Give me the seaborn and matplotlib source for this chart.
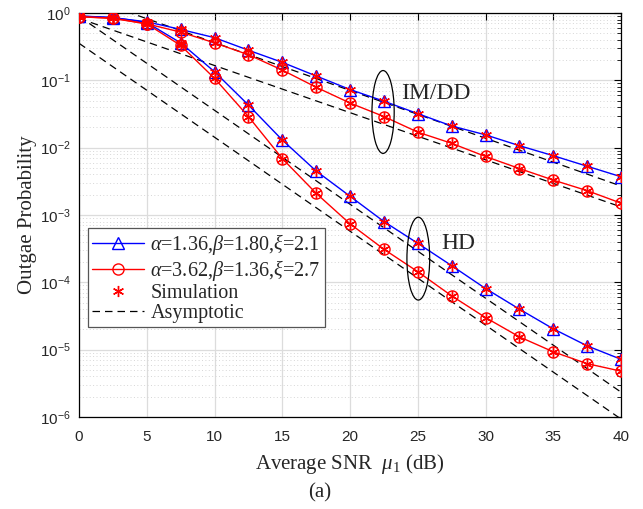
import numpy as np
import pandas as pd
import matplotlib
matplotlib.use("Agg")
import matplotlib.pyplot as plt
from matplotlib.lines import Line2D
from matplotlib.patches import Ellipse
from matplotlib.ticker import LogLocator, FixedLocator, FuncFormatter, NullFormatter
import seaborn as sns

# ---------------- data ----------------
snr_db = [0, 2.5, 5, 7.5, 10, 12.5, 15, 17.5, 20, 22.5, 25, 27.5, 30, 32.5, 35, 37.5, 40]

imdd_set1 = [0.90, 0.85, 0.74, 0.57, 0.43, 0.28, 0.185, 0.116, 0.073, 0.049, 0.032,
             0.021, 0.0155, 0.0107, 0.0076, 0.0053, 0.0037]
imdd_set2 = [0.88, 0.83, 0.69, 0.52, 0.36, 0.24, 0.142, 0.079, 0.046, 0.029, 0.017,
             0.0116, 0.0074, 0.0049, 0.0033, 0.0023, 0.0015]
hd_set1 = [0.90, 0.86, 0.72, 0.36, 0.134, 0.043, 0.013, 0.0045, 0.0019, 0.00080, 0.00038,
           0.000177, 8.1e-5, 4.0e-5, 2.04e-5, 1.14e-5, 7.2e-6]
hd_set2 = [0.88, 0.84, 0.69, 0.33, 0.107, 0.029, 0.0069, 0.0021, 0.00074, 0.00031, 0.000144,
           6.3e-5, 3.0e-5, 1.55e-5, 9.3e-6, 6.2e-6, 4.8e-6]

# asymptotic lines (values at 0 dB and 40 dB)
asym_snr = [0, 40]
asym_imdd_set1 = [10 ** 0.27, 10 ** -2.57]
asym_imdd_set2 = [10 ** -0.08, 10 ** -2.88]
asym_hd_set1 = [10 ** -0.05, 10 ** -5.63]
asym_hd_set2 = [10 ** -0.45, 10 ** -6.03]

labels = [r"$\alpha$=1.36,$\beta$=1.80,$\xi$=2.1",
          r"$\alpha$=3.62,$\beta$=1.36,$\xi$=2.7",
          "Simulation", "Asymptotic"]
x_ticks = [0, 5, 10, 15, 20, 25, 30, 35, 40]

# ---------------- style ----------------
sns.set_theme(style="white")
plt.rcParams["font.family"] = ["Liberation Serif", "DejaVu Serif"]
plt.rcParams["mathtext.fontset"] = "custom"
plt.rcParams["mathtext.rm"] = "Liberation Serif"
plt.rcParams["mathtext.it"] = "Liberation Serif:italic"
plt.rcParams["mathtext.bf"] = "Liberation Serif:bold"

fig = plt.figure(figsize=(6.43, 5.09), dpi=100)
ax = fig.add_axes([0.1229, 0.1807, 0.8429, 0.7938])

ms = 8
star = (6, 2, 0)
for vals, col, mk in [(imdd_set1, "blue", "^"), (hd_set1, "blue", "^"),
                      (imdd_set2, "red", "o"), (hd_set2, "red", "o")]:
    sns.lineplot(x=snr_db, y=vals, ax=ax, color=col, lw=1.0, marker=mk, ms=ms,
                 mfc="none", mec=col, mew=1.0, zorder=3)
for vals in [imdd_set1, hd_set1, imdd_set2, hd_set2]:
    ax.plot(snr_db, vals, ls="none", marker=star, ms=8, color="red", mec="red",
            mew=1.0, zorder=4)

for vals in [asym_imdd_set1, asym_imdd_set2, asym_hd_set1, asym_hd_set2]:
    sns.lineplot(x=asym_snr, y=vals, ax=ax, color="black", lw=0.9, ls=(0, (6, 4)), zorder=2)

ax.set_yscale("log")
ax.set_xlim(0, 40)
ax.set_ylim(1e-6, 1)
ax.xaxis.set_major_locator(FixedLocator(x_ticks))
ax.yaxis.set_major_locator(LogLocator(base=10, numticks=20))
ax.yaxis.set_minor_locator(LogLocator(base=10, subs=np.arange(2, 10), numticks=20))
ax.yaxis.set_minor_formatter(NullFormatter())
ax.yaxis.set_major_formatter(FuncFormatter(lambda v, p: r"$\mathregular{10^{%d}}$" % int(round(np.log10(v)))))

ax.grid(True, which="major", color="#dcdcdc", lw=0.9, ls="-")
ax.grid(True, which="minor", axis="y", color="#d6d6d6", lw=0.7, ls=(0, (1, 2.5)))
ax.set_axisbelow(True)

ax.tick_params(which="both", direction="in", top=True, right=True, colors="black",
               labelcolor="#262626")
ax.tick_params(which="major", length=5, width=0.8, labelsize=11)
ax.tick_params(axis="x", which="major", pad=9)
ax.tick_params(axis="y", which="major", pad=6)
ax.tick_params(which="minor", length=3, width=0.6)
for lab in ax.get_xticklabels() + ax.get_yticklabels():
    lab.set_fontfamily("Liberation Sans")
for sp in ax.spines.values():
    sp.set_color("black")
    sp.set_linewidth(0.9)

ax.set_xlabel(r"Average SNR  $\mu_{\mathregular{1}}$ (dB)", fontsize=15, labelpad=6)
ax.set_ylabel("Outgae Probability", fontsize=15, labelpad=2)

# ellipses and group labels
ax.add_patch(Ellipse((0.561, 0.755), 0.041, 0.205, transform=ax.transAxes,
                     fill=False, ec="black", lw=0.9, zorder=5))
ax.add_patch(Ellipse((0.626, 0.392), 0.042, 0.205, transform=ax.transAxes,
                     fill=False, ec="black", lw=0.9, zorder=5))
ax.text(0.594, 0.8, "IM/DD", transform=ax.transAxes, fontsize=17, va="center", ha="left")
ax.text(0.669, 0.43, "HD", transform=ax.transAxes, fontsize=17, va="center", ha="left")

handles = [Line2D([], [], color="blue", lw=1, marker="^", ms=ms, mfc="none", mec="blue"),
           Line2D([], [], color="red", lw=1, marker="o", ms=ms, mfc="none", mec="red"),
           Line2D([], [], ls="none", marker=star, ms=8, color="red", mec="red", mew=1.0),
           Line2D([], [], color="black", lw=0.9, ls=(0, (6, 4)))]
leg = ax.legend(handles, labels, loc="lower left", bbox_to_anchor=(0.0166, 0.223),
                fontsize=14.5, frameon=True, fancybox=False, edgecolor="#555555",
                framealpha=1, borderpad=0.2, labelspacing=0.05, handlelength=2.6,
                handletextpad=0.3, borderaxespad=0)
leg.get_frame().set_linewidth(0.9)

fig.text(0.497, 0.031, "(a)", fontsize=15, ha="center", va="center")

fig.savefig("out.png", dpi=100)
